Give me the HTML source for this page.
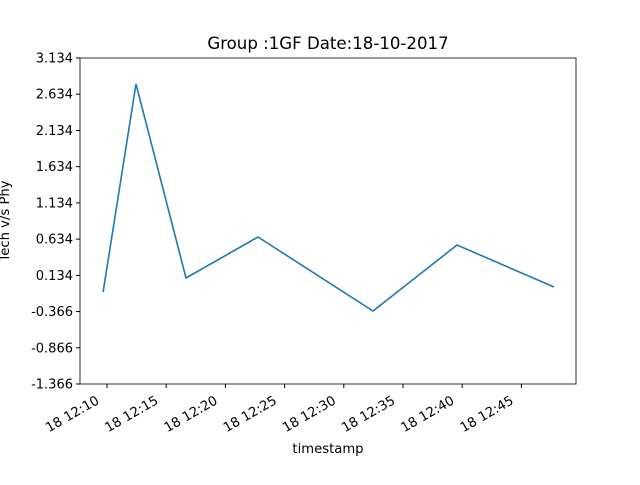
<!DOCTYPE html>
<html><head><meta charset="utf-8"><style>
body{margin:0;background:#fff;}
svg text{font-family:"DejaVu Sans","Liberation Sans",sans-serif;fill:#000;}
</style></head><body>
<svg id="chart" width="640" height="480" xmlns="http://www.w3.org/2000/svg">
<rect width="640" height="480" fill="#fff"/>
<text x="328" y="49" font-size="16.6" text-anchor="middle">Group :1GF Date:18-10-2017</text>
<g id="yticks"></g><g id="xticks"></g>
<path id="line" fill="none" stroke="#1f77b4" stroke-width="1.6"/>
<rect x="80" y="58" width="496" height="326" fill="none" stroke="#000" stroke-width="0.8"/>
<text x="328" y="453" font-size="13.2" text-anchor="middle">timestamp</text>
<text transform="translate(9,221) rotate(-90)" font-size="13.2" text-anchor="middle">Tech v/s Phy</text>
</svg>
<script>
const times = [9.67, 12.45, 16.67, 22.75, 32.47, 39.56, 47.75]; // minutes after 12:00
const values = [-0.096, 2.775, 0.097, 0.663, -0.359, 0.553, -0.027];
const yTickLabels = ["-1.366","-0.866","-0.366","0.134","0.634","1.134","1.634","2.134","2.634","3.134"];
const xTickMinutes = [10, 15, 20, 25, 30, 35, 40, 45];
const xTickLabels = ["18 12:10","18 12:15","18 12:20","18 12:25","18 12:30","18 12:35","18 12:40","18 12:45"];
const NS = "http://www.w3.org/2000/svg";
function xs(m){return 107 + (m-10)*59.2/5;}
function ys(v){return 384 - (v-(-1.366))*326/4.5;}
const yt = document.getElementById('yticks');
yTickLabels.forEach(l=>{
  const y = ys(parseFloat(l));
  const t = document.createElementNS(NS,'line');
  t.setAttribute('x1',76);t.setAttribute('x2',80);t.setAttribute('y1',y);t.setAttribute('y2',y);t.setAttribute('stroke','#000');
  
  
  yt.appendChild(t);
  const tx = document.createElementNS(NS,'text');
  tx.setAttribute('x',73);tx.setAttribute('y',y+4.5);tx.setAttribute('font-size','13');tx.setAttribute('text-anchor','end');
  tx.textContent = l;
  
  
  yt.appendChild(tx);
});
const xt = document.getElementById('xticks');
xTickMinutes.forEach((m,i)=>{
  const x = xs(m);
  const t = document.createElementNS(NS,'line');
  t.setAttribute('x1',x);t.setAttribute('x2',x);t.setAttribute('y1',384);t.setAttribute('y2',388);t.setAttribute('stroke','#000');
  
  
  xt.appendChild(t);
  const tx = document.createElementNS(NS,'text');
  tx.setAttribute('transform','translate('+(x-7)+',403) rotate(-30)');
  tx.setAttribute('font-size','13.2');tx.setAttribute('text-anchor','end');
  tx.textContent = xTickLabels[i];
  
  
  xt.appendChild(tx);
});
document.getElementById('line').setAttribute('d', times.map((m,i)=>(i?'L':'M')+xs(m).toFixed(1)+','+ys(values[i]).toFixed(1)).join(' '));
</script>
</body></html>
